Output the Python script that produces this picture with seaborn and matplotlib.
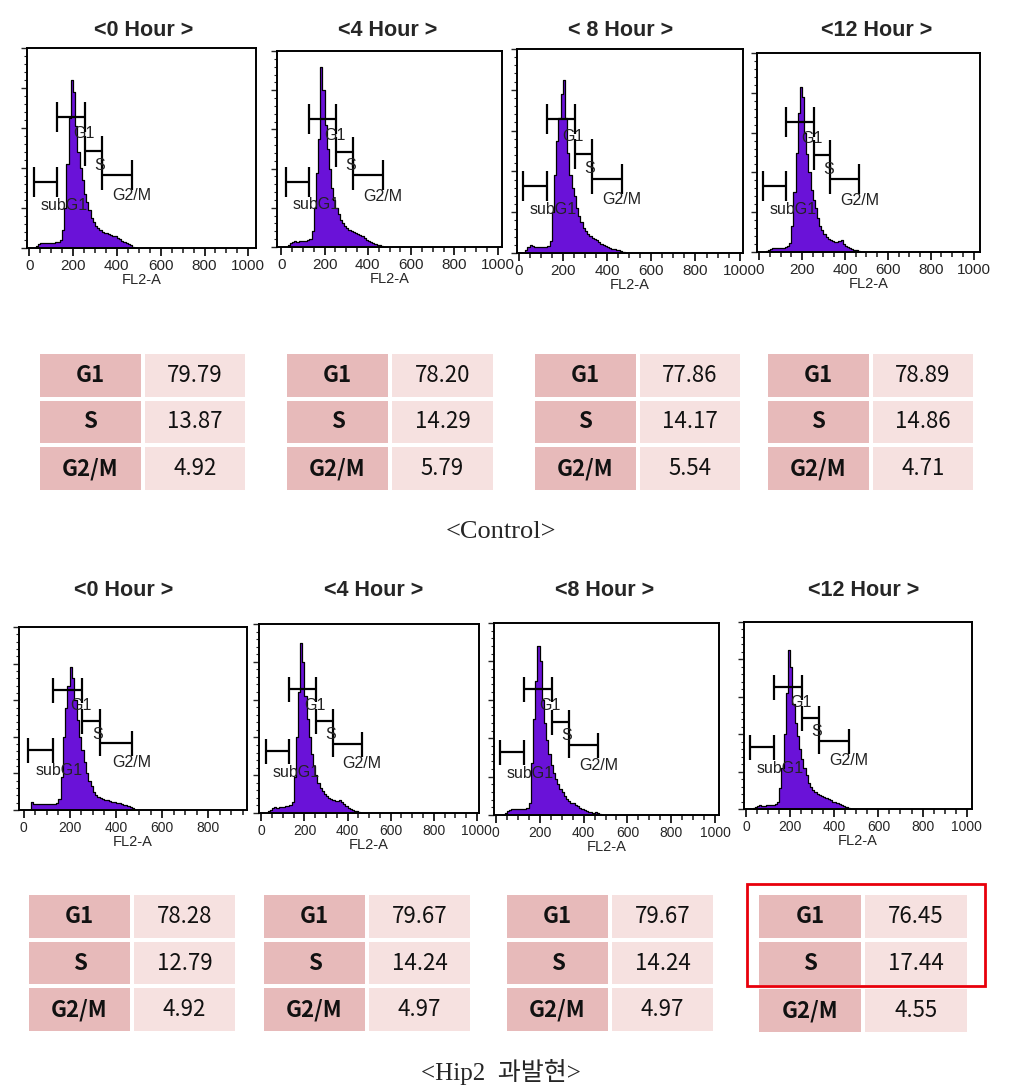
import numpy as np
import pandas as pd
import matplotlib
matplotlib.use("Agg")
import matplotlib.pyplot as plt
from matplotlib.colors import ListedColormap
from matplotlib.patches import Rectangle
from matplotlib.ticker import MultipleLocator
import seaborn as sns

# ---------------- data ----------------
bin_centers = list(range(35, 490, 10))           # FL2-A channel bins (width 10)

hours = ["<0 Hour >", "<4 Hour >", "< 8 Hour >", "<12 Hour >"]
hours_b = ["<0 Hour >", "<4 Hour >", "<8 Hour >", "<12 Hour >"]

# histogram heights (% of axis height)
ctrl_0h = [1, 2, 2.5, 2.5, 2.5, 2.5, 2.5, 2.5, 2.5, 3, 3, 4, 9, 20, 42, 65, 84, 78, 61, 48, 40, 34, 27, 23, 19, 15,
           13, 11, 10, 9, 8, 7.5, 7.5, 7, 6.5, 6, 6, 5, 4.5, 3.5, 3, 2.5, 2, 1.5, 0.5, 0]
ctrl_4h = [1, 2, 2.5, 3, 2.5, 3, 3, 3, 3, 3.5, 4, 8, 20, 38, 55, 92, 80, 62, 50, 40, 30, 24, 20, 17, 14, 12,
           10.5, 9.5, 8.5, 8, 7.5, 7, 6.5, 6, 5.5, 4.5, 3.5, 3, 2.5, 2, 1.5, 1.2, 1, 0.3, 0, 0]
ctrl_8h = [1.5, 3, 4, 3.5, 3, 3, 3, 3, 3, 3, 3.5, 6, 20, 38, 55, 66, 78, 85, 66, 49, 38, 32, 28, 22, 18, 15,
           12.5, 11, 9.5, 8.5, 7.5, 7, 6.5, 5.5, 4.5, 4, 3.5, 3, 2.5, 2, 1.8, 1.5, 1.3, 1, 0.3, 0]
ctrl_12h = [0.5, 1, 1.5, 2, 2, 2, 2, 2, 2, 2.5, 3, 4.5, 13, 30, 50, 70, 83, 78, 60, 49, 40, 31, 26, 22, 17, 13,
            11, 9, 7.5, 6.5, 6, 5.5, 5, 5, 5.5, 6, 4, 3, 2.5, 2, 1.5, 1.2, 1, 0.5, 0, 0]
hip2_0h = [4.5, 3.5, 3.3, 3.3, 3.3, 3.3, 3.3, 3.3, 3.5, 3.5, 3.5, 4, 6, 18, 40, 56, 68, 78, 72, 60, 49, 40, 33, 26,
           20, 16, 13, 10, 8, 7, 6.5, 6, 5.5, 5.5, 5, 4.5, 4.5, 4, 3.8, 3.5, 3, 2.5, 2, 1.5, 1, 0]
hip2_4h = [1, 1.5, 2.5, 3, 2.5, 3, 3, 3, 3.5, 3.5, 4, 6, 19, 40, 64, 90, 80, 62, 50, 40, 31, 25, 20, 16, 13, 11.5,
           10, 9, 8, 7.5, 7, 6.5, 6.5, 7, 6, 4.5, 3.5, 2.5, 2, 1.5, 1.2, 1, 0.5, 0.2, 0, 0]
hip2_8h = [0, 1, 2, 2.5, 3, 3, 3, 3, 3, 3, 3, 3.5, 6, 27, 50, 70, 88, 80, 60, 48, 39, 32, 26, 22, 18.5, 16,
           13.5, 12, 10, 8.5, 7.5, 6.5, 6, 5, 4.5, 3.5, 3, 2.5, 2, 1.8, 1.5, 1.2, 1.5, 1, 0.3, 0]
hip2_12h = [0.5, 1, 1.5, 2, 1.8, 1.8, 2, 2, 2, 2, 2.5, 4, 11, 22, 40, 62, 85, 76, 56, 46, 39, 32, 27, 22, 18, 14,
            11.5, 10, 9, 8, 7.5, 7, 6.5, 6, 5.5, 5, 4, 3.5, 3, 2.5, 2, 1.5, 1, 0.5, 0, 0]

ctrl_hists = [ctrl_0h, ctrl_4h, ctrl_8h, ctrl_12h]
hip2_hists = [hip2_0h, hip2_4h, hip2_8h, hip2_12h]

# gates: name, start, end, level (% of axis height)
gate_names = ["subG1", "G1", "S", "G2/M"]
gate_start = [20, 127, 255, 332]
gate_end = [127, 255, 332, 468]
gate_level = [33, 65.5, 48.5, 36.5]

# cell-cycle tables
phases = ["G1", "S", "G2/M"]
ctrl_vals = [["79.79", "13.87", "4.92"], ["78.20", "14.29", "5.79"],
             ["77.86", "14.17", "5.54"], ["78.89", "14.86", "4.71"]]
hip2_vals = [["78.28", "12.79", "4.92"], ["79.67", "14.24", "4.97"],
             ["79.67", "14.24", "4.97"], ["76.45", "17.44", "4.55"]]

# ---------------- style ----------------
sns.set_style("white")
plt.rcParams["font.family"] = ["Liberation Sans", "DejaVu Sans"]

W, H = 1009, 1090
fig = plt.figure(figsize=(W / 100, H / 100), dpi=100)


def add_ax(l, r, t, b):
    return fig.add_axes([l / W, 1 - b / H, (r - l) / W, (b - t) / H])


PURPLE = "#6A12D8"

hist_boxes_top = [(27, 256, 48, 248), (277, 502, 51, 247), (517, 743, 49, 253), (757, 980, 53, 252)]
xlims_top = [(-10, 1035), (-20, 1020), (-7, 1015), (-10, 1030)]
hist_boxes_bot = [(19, 247, 627, 810), (259, 479, 624, 813), (494, 719, 623, 815), (744, 972, 622, 809)]
xlims_bot = [(-20, 968), (-11, 1010), (-8, 1017), (-9, 1024)]

title_x_top = [144, 388, 621, 877]
title_x_bot = [124, 374, 605, 864]


def draw_hist(box, xlim, counts, title, tx, ty, cap, lsize):
    ax = add_ax(*box)
    df = pd.DataFrame({"fl2": bin_centers, "count": counts})
    sns.histplot(data=df, x="fl2", weights="count", binwidth=10, binrange=(30, 490),
                 element="step", fill=True, color=PURPLE, alpha=1.0,
                 edgecolor="black", linewidth=0.9, ax=ax)
    ticks = [t for t in [0, 200, 400, 600, 800, 1000] if t <= xlim[1]]
    ax.set_xticks(ticks)
    ax.xaxis.set_minor_locator(MultipleLocator(50))
    ax.set_yticks(np.arange(0, 101, 20))
    ax.yaxis.set_minor_locator(MultipleLocator(4))
    ax.set_xlim(*xlim)
    ax.set_ylim(0, 100)
    ax.set_ylabel("")
    ax.set_xlabel("FL2-A", fontsize=10.5, labelpad=0)
    ax.tick_params(axis="x", which="major", direction="out", length=6, width=1.4,
                   labelsize=lsize, pad=2, bottom=True)
    ax.tick_params(axis="x", which="minor", direction="out", length=3.5, width=1.2, bottom=True)
    ax.tick_params(axis="y", which="major", direction="out", length=4, width=1.0, labelleft=False, left=True)
    ax.tick_params(axis="y", which="minor", direction="out", length=2, width=0.8, left=True)
    for s in ax.spines.values():
        s.set_visible(True)
        s.set_color("black")
        s.set_linewidth(1.4)
    # gates
    for nm, x0, x1, lv in zip(gate_names, gate_start, gate_end, gate_level):
        ax.errorbar(x=(x0 + x1) / 2, y=lv, xerr=(x1 - x0) / 2, fmt="none", ecolor="black",
                    elinewidth=1.6, capsize=cap, capthick=1.6)
    ax.text(248, 57, "G1", ha="center", va="center", fontsize=11.5, color="#222222")
    ax.text(322, 41.5, "S", ha="center", va="center", fontsize=11.5, color="#222222")
    ax.text(468, 26, "G2/M", ha="center", va="center", fontsize=11.5, color="#222222")
    ax.text(50, 21.5, "subG1", ha="left", va="center", fontsize=11.5, color="#222222")
    fig.text(tx / W, 1 - ty / H, title, ha="center", va="center", fontsize=15.5, fontweight="bold")
    return ax


for i in range(4):
    draw_hist(hist_boxes_top[i], xlims_top[i], ctrl_hists[i], hours[i], title_x_top[i], 30, 10.5, 11)
    draw_hist(hist_boxes_bot[i], xlims_bot[i], hip2_hists[i], hours_b[i], title_x_bot[i], 590, 9, 10)

# ---------------- tables ----------------
C_LEFT = "#E7BABA"
C_RIGHT = "#F6E1E0"
cmap = ListedColormap([C_LEFT, C_RIGHT])
table_boxes_top = [(38, 247, 352, 492), (285, 495, 352, 492), (533, 742, 352, 492), (766, 975, 352, 492)]
table_boxes_bot = [(27, 237, 893, 1033), (262, 472, 893, 1033), (505, 715, 893, 1033), (757, 969, 893, 1034)]


def draw_table(box, vals):
    ax = add_ax(*box)
    mat = np.array([[0, 1]] * 3)
    labels = np.array([[p, v] for p, v in zip(phases, vals)])
    sns.heatmap(mat, cmap=cmap, vmin=0, vmax=1, cbar=False, annot=labels, fmt="",
                linewidths=1.6, linecolor="white", ax=ax,
                annot_kws={"fontsize": 16, "color": "#111111",
                           "family": ["Noto Sans CJK KR", "DejaVu Sans"]})
    for t in ax.texts:
        if t.get_position()[0] < 1:
            t.set_fontweight("bold")
    ax.set_xticks([])
    ax.set_yticks([])
    return ax


for i in range(4):
    draw_table(table_boxes_top[i], ctrl_vals[i])
    last = draw_table(table_boxes_bot[i], hip2_vals[i])

# red highlight around G1/S of Hip2 12h
last.add_patch(Rectangle((-0.09, -0.19), 2.24, 2.17, fill=False, edgecolor="#E8000B",
                         linewidth=2.0, clip_on=False))

# captions
fig.text(501 / W, 1 - 532 / H, "<Control>", ha="center", va="center", fontsize=19,
         family=["Liberation Serif", "Noto Sans CJK KR"])
fig.text(501 / W, 1 - 1072 / H, "<Hip2  과발현>", ha="center", va="center", fontsize=18,
         family=["Liberation Serif", "Noto Sans CJK KR"])

fig.savefig("out.png", dpi=100)
